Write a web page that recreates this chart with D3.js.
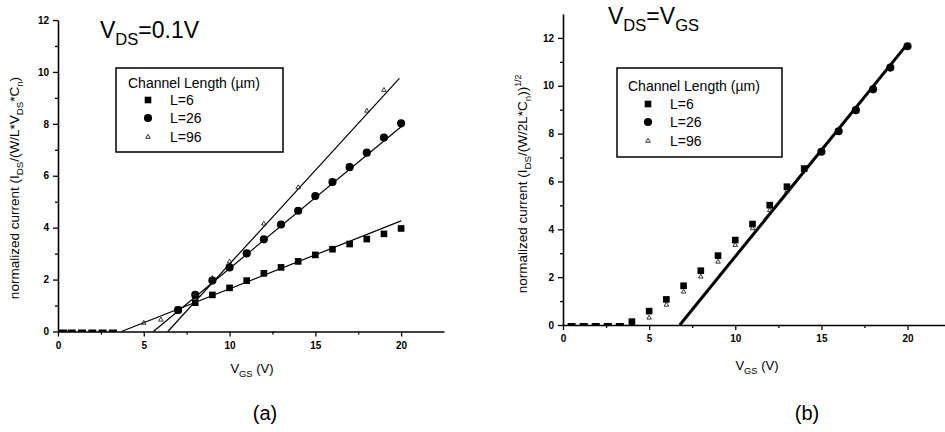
<!DOCTYPE html>
<html><head><meta charset="utf-8">
<script src="https://cdn.jsdelivr.net/npm/d3@7"></script>
<style>
html,body{margin:0;padding:0;background:#fff;}
svg text{font-family:"Liberation Sans",Arial,sans-serif;fill:#000;}
</style></head>
<body>
<svg id="c" width="945" height="432"></svg>
<script>
// ---------- data : panel (a) V_DS = 0.1 V ----------
const xTicks = [0, 5, 10, 15, 20];
const xMinor = [2.5, 7.5, 12.5, 17.5];
const yTicksA = [0, 2, 4, 6, 8, 10, 12];
const yMinorA = [1, 3, 5, 7, 9, 11];
const vgsA = [7, 8, 9, 10, 11, 12, 13, 14, 15, 16, 17, 18, 19, 20];
const aL6  = [0.83, 1.11, 1.41, 1.68, 1.96, 2.24, 2.47, 2.70, 2.95, 3.17, 3.37, 3.56, 3.76, 3.97];
const aL26 = [0.83, 1.41, 1.96, 2.47, 3.01, 3.55, 4.12, 4.65, 5.22, 5.76, 6.33, 6.89, 7.47, 8.02];
const vgsA96 = [5, 6, 8, 9, 10, 12, 14, 18, 19];
const aL96 = [0.33, 0.45, 1.45, 2.05, 2.69, 4.15, 5.55, 8.50, 9.30];
const subA_x = [0.3, 0.8, 1.4, 2.0, 2.6, 3.2];
const subA_y = [0, 0, 0, 0, 0, 0];
const fitA6_x = [3.7, 20],  fitA6_y = [0, 4.26];
const fitA26_x = [5.56, 20], fitA26_y = [0, 7.89];
const fitA96_x = [6.4, 19.9], fitA96_y = [0, 9.75];

// ---------- data : panel (b) V_DS = V_GS ----------
const yTicksB = [0, 2, 4, 6, 8, 10, 12];
const yMinorB = [1, 3, 5, 7, 9, 11];
const vgsB6 = [4, 5, 6, 7, 8, 9, 10, 11, 12, 13, 14];
const bL6   = [0.14, 0.58, 1.07, 1.64, 2.27, 2.90, 3.55, 4.22, 5.01, 5.78, 6.54];
const vgsB96 = [5, 6, 7, 8, 9, 10, 11, 12, 13];
const bL96   = [0.30, 0.84, 1.39, 2.02, 2.64, 3.34, 4.04, 4.80, 5.60];
const vgsB26 = [15, 16, 17, 18, 19, 20];
const bL26   = [7.24, 8.10, 8.98, 9.85, 10.76, 11.65];
const subB_x = [0.5, 1.2, 1.9, 2.6, 3.3];
const subB_y = [0, 0, 0, 0, 0];
const fitB_x = [6.78, 19.94], fitB_y = [0, 11.70];

const legendTitle = "Channel Length (µm)";
const legendLabels = ["L=6", "L=26", "L=96"];

// ---------- drawing ----------
const svg = d3.select("#c");

function rich(sel, parts, fs) {
  let off = 0;
  parts.forEach(p => {
    const t = sel.append("tspan").text(p.t);
    let target = 0, size = fs;
    if (p.sub) { target = 0.3 * fs; size = fs * 0.72; }
    if (p.sup) { target = -0.45 * fs; size = fs * 0.65; }
    t.attr("font-size", size);
    if (target !== off) { t.attr("dy", target - off); off = target; }
  });
}

function panel(o) {
  const x = d3.scaleLinear().domain([0, 22.5]).range(o.xr);
  const y = d3.scaleLinear().domain(o.yd).range(o.yr);
  const g = svg.append("g");

  // axes
  g.append("g").attr("transform", `translate(0,${o.yr[0]})`)
    .call(d3.axisBottom(x).tickValues(xTicks).tickSize(5).tickSizeOuter(0).tickPadding(5));
  g.append("g").attr("transform", `translate(0,${o.yr[0]})`)
    .call(d3.axisBottom(x).tickValues(xMinor).tickSize(3).tickSizeOuter(0).tickFormat(""))
    .select(".domain").remove();
  g.append("g").attr("transform", `translate(${x(0)},0)`)
    .call(d3.axisLeft(y).tickValues(o.yt).tickSize(5).tickSizeOuter(0).tickPadding(4));
  g.append("g").attr("transform", `translate(${x(0)},0)`)
    .call(d3.axisLeft(y).tickValues(o.ym).tickSize(3).tickSizeOuter(0).tickFormat(""))
    .select(".domain").remove();
  g.selectAll(".domain").attr("stroke", "#000").attr("stroke-width", 1.6);
  g.selectAll(".tick line").attr("stroke", "#000").attr("stroke-width", 1.3);
  g.selectAll(".tick text").attr("font-size", 10).attr("font-weight", "bold")
    .attr("font-family", "'Liberation Sans',Arial,sans-serif");

  // fit lines
  const line = d3.line().x(d => x(d[0])).y(d => y(d[1]));
  o.fits.forEach(f => {
    g.append("path").datum(d3.zip(f.x, f.y)).attr("d", line)
      .attr("fill", "none").attr("stroke", "#000").attr("stroke-width", o.lw);
  });

  // subthreshold points along the axis
  g.selectAll(".sub").data(d3.zip(o.sub.x, o.sub.y)).join("rect")
    .attr("x", d => x(d[0]) - 4).attr("y", d => y(d[1]) - 2)
    .attr("width", 8).attr("height", 2.5).attr("fill", "#000");

  // markers
  const sq = d3.symbol(d3.symbolSquare, 44)();
  const ci = d3.symbol(d3.symbolCircle, 52)();
  const tr = d3.symbol(d3.symbolTriangle, 9)();
  o.series.forEach(s => {
    const pts = d3.zip(s.x, s.y);
    const sel = g.selectAll(null).data(pts).join("path")
      .attr("transform", d => `translate(${x(d[0])},${y(d[1])})`);
    if (s.type === "sq") sel.attr("d", sq).attr("fill", "#000");
    if (s.type === "ci") sel.attr("d", ci).attr("fill", "#000");
    if (s.type === "tr") sel.attr("d", tr).attr("fill", "none").attr("stroke", "#222").attr("stroke-width", 0.9);
  });

  // legend
  const L = o.leg;
  g.append("rect").attr("x", L.x).attr("y", L.y).attr("width", L.w).attr("height", L.h)
    .attr("fill", "#fff").attr("stroke", "#000").attr("stroke-width", 1.5);
  g.append("text").attr("x", L.tx).attr("y", L.ty).attr("font-size", 14).text(legendTitle);
  const types = ["sq", "ci", "tr"];
  legendLabels.forEach((lab, i) => {
    const cy = L.ey[i];
    const sym = types[i] === "sq" ? sq : types[i] === "ci" ? ci : tr;
    const p = g.append("path").attr("d", sym).attr("transform", `translate(${L.sx},${cy - 5})`);
    if (types[i] === "tr") p.attr("fill", "none").attr("stroke", "#222").attr("stroke-width", 0.9);
    else p.attr("fill", "#000");
    g.append("text").attr("x", L.lx).attr("y", cy).attr("font-size", 14).text(lab);
  });

  // labels
  const yl = g.append("text").attr("transform", `translate(${o.ylab.x},${o.ylab.y}) rotate(-90)`)
    .attr("text-anchor", "middle").attr("font-size", 13.5);
  rich(yl, o.ylab.parts, 13.5);
  const xl = g.append("text").attr("x", o.xlab.x).attr("y", o.xlab.y).attr("text-anchor", "middle").attr("font-size", 13);
  rich(xl, [{t: "V"}, {t: "GS", sub: true}, {t: " (V)"}], 13);
  const tt = g.append("text").attr("x", o.title.x).attr("y", o.title.y).attr("font-size", 23);
  rich(tt, o.title.parts, 23);
  g.append("text").attr("x", o.tag.x).attr("y", o.tag.y).attr("text-anchor", "middle")
    .attr("font-size", 20).text(o.tag.t);
}

panel({
  xr: [58, 444], yd: [0, 12], yr: [331.5, 20], yt: yTicksA, ym: yMinorA, lw: 1.2,
  fits: [{x: fitA6_x, y: fitA6_y}, {x: fitA26_x, y: fitA26_y}, {x: fitA96_x, y: fitA96_y}],
  sub: {x: subA_x, y: subA_y},
  series: [{type: "sq", x: vgsA, y: aL6}, {type: "ci", x: vgsA, y: aL26}, {type: "tr", x: vgsA96, y: aL96}],
  leg: {x: 116, y: 68, w: 167, h: 84, tx: 128, ty: 88, sx: 148, lx: 170, ey: [105, 123, 142]},
  ylab: {x: 19, y: 188, parts: [{t: "normalized current (I"}, {t: "DS", sub: true}, {t: "/(W/L*V"}, {t: "DS", sub: true}, {t: "*C"}, {t: "n", sub: true}, {t: ")"}]},
  xlab: {x: 252, y: 373},
  title: {x: 100, y: 38, parts: [{t: "V"}, {t: "DS", sub: true}, {t: "=0.1V"}]},
  tag: {x: 265, y: 420, t: "(a)"}
});

panel({
  xr: [563, 950.6], yd: [0, 13], yr: [325, 14], yt: yTicksB, ym: yMinorB, lw: 3,
  fits: [{x: fitB_x, y: fitB_y}],
  sub: {x: subB_x, y: subB_y},
  series: [{type: "sq", x: vgsB6, y: bL6}, {type: "tr", x: vgsB96, y: bL96}, {type: "ci", x: vgsB26, y: bL26}],
  leg: {x: 617, y: 68, w: 165, h: 89, tx: 628, ty: 91, sx: 648, lx: 670, ey: [109, 127, 146]},
  ylab: {x: 527, y: 184, parts: [{t: "normalized current (I"}, {t: "DS", sub: true}, {t: "/(W/2L*C"}, {t: "n", sub: true}, {t: "))"}, {t: "1/2", sup: true}]},
  xlab: {x: 757, y: 370},
  title: {x: 608, y: 24, parts: [{t: "V"}, {t: "DS", sub: true}, {t: "=V"}, {t: "GS", sub: true}]},
  tag: {x: 807, y: 420, t: "(b)"}
});
</script>
</body></html>
